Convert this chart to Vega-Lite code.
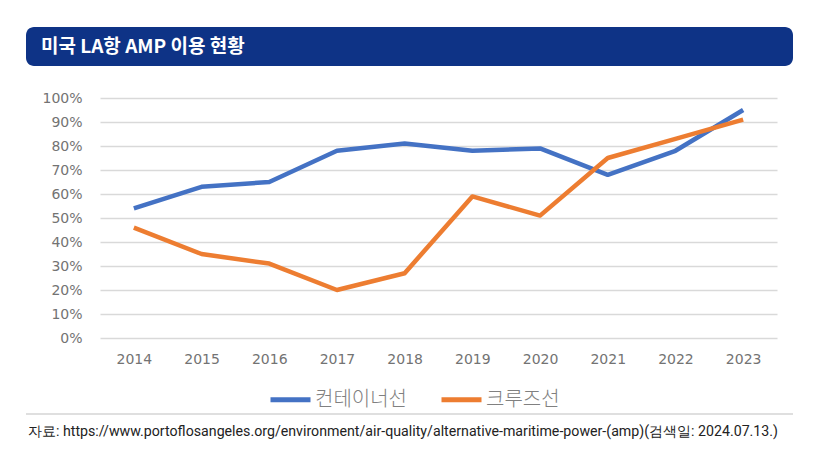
{
  "$schema": "https://vega.github.io/schema/vega-lite/v6.json",
  "background": "white",
  "padding": {"left": 25, "top": 27, "right": 40, "bottom": 10},
  "config": {"view": {"stroke": null}, "font": "Noto Sans CJK KR"},
  "spacing": 25,
  "resolve": {"scale": {"color": "independent"}, "legend": {"color": "independent"}},
  "vconcat": [
    {
      "width": 767,
      "height": 39,
      "view": {"fill": "#0E3386", "cornerRadius": 8, "stroke": null},
      "data": {"values": [{"label": "미국 LA항 AMP 이용 현황"}]},
      "mark": {"type": "text", "align": "left", "baseline": "middle", "dx": 15, "color": "white", "font": "Noto Sans CJK KR", "fontSize": 19, "fontWeight": "bold"},
      "encoding": {
        "text": {"field": "label"},
        "x": {"datum": 0, "type": "quantitative", "scale": {"domain": [0, 1]}, "axis": null},
        "y": {"datum": 0.5, "type": "quantitative", "scale": {"domain": [0, 1]}, "axis": null}
      }
    },
    {
      "spacing": 3,
      "resolve": {"scale": {"color": "independent"}, "legend": {"color": "independent"}},
      "vconcat": [
        {
          "spacing": 14,
          "resolve": {"scale": {"color": "independent"}, "legend": {"color": "independent"}},
          "hconcat": [
            {
              "width": 1,
              "height": 240,
              "data": {"values": [{"blank": ""}]},
              "mark": {"type": "text"},
              "encoding": {"text": {"field": "blank"}}
            },
            {
              "width": 677,
              "height": 240,
              "data": {
                "values": [
                  {"year": "2014", "series": "컨테이너선", "value": 54},
                  {"year": "2015", "series": "컨테이너선", "value": 63},
                  {"year": "2016", "series": "컨테이너선", "value": 65},
                  {"year": "2017", "series": "컨테이너선", "value": 78},
                  {"year": "2018", "series": "컨테이너선", "value": 81},
                  {"year": "2019", "series": "컨테이너선", "value": 78},
                  {"year": "2020", "series": "컨테이너선", "value": 79},
                  {"year": "2021", "series": "컨테이너선", "value": 68},
                  {"year": "2022", "series": "컨테이너선", "value": 78},
                  {"year": "2023", "series": "컨테이너선", "value": 95},
                  {"year": "2014", "series": "크루즈선", "value": 46},
                  {"year": "2015", "series": "크루즈선", "value": 35},
                  {"year": "2016", "series": "크루즈선", "value": 31},
                  {"year": "2017", "series": "크루즈선", "value": 20},
                  {"year": "2018", "series": "크루즈선", "value": 27},
                  {"year": "2019", "series": "크루즈선", "value": 59},
                  {"year": "2020", "series": "크루즈선", "value": 51},
                  {"year": "2021", "series": "크루즈선", "value": 75},
                  {"year": "2022", "series": "크루즈선", "value": 83},
                  {"year": "2023", "series": "크루즈선", "value": 91}
                ]
              },
              "mark": {"type": "line", "strokeWidth": 4.5, "strokeJoin": "round"},
              "encoding": {
                "x": {
                  "field": "year",
                  "type": "ordinal",
                  "scale": {"type": "point", "padding": 0.5},
                  "axis": {"title": null, "labelAngle": 0, "domain": false, "ticks": false, "labelPadding": 14, "labelFont": "DejaVu Sans", "labelFontSize": 14, "labelColor": "#737373"}
                },
                "y": {
                  "field": "value",
                  "type": "quantitative",
                  "scale": {"domain": [0, 100]},
                  "axis": {
                    "title": null,
                    "values": [0, 10, 20, 30, 40, 50, 60, 70, 80, 90, 100],
                    "labelExpr": "datum.value + '%'",
                    "domain": false,
                    "ticks": false,
                    "labelPadding": 18,
                    "labelFont": "DejaVu Sans",
                    "labelFontSize": 14,
                    "labelColor": "#737373",
                    "gridColor": "#D9D9D9",
                    "gridWidth": 1.5
                  }
                },
                "color": {
                  "field": "series",
                  "type": "nominal",
                  "scale": {"domain": ["컨테이너선", "크루즈선"], "range": ["#4472C4", "#ED7D31"]},
                  "legend": {
                    "title": null,
                    "orient": "none",
                    "legendX": 168,
                    "legendY": 279,
                    "direction": "horizontal",
                    "symbolType": "stroke",
                    "symbolSize": 1600,
                    "symbolStrokeWidth": 5,
                    "labelFont": "Noto Sans CJK KR",
                    "labelFontSize": 20,
                    "labelFontWeight": 300,
                    "labelColor": "#808080",
                    "labelOffset": 2,
                    "columnPadding": 24
                  }
                }
              }
            }
          ]
        },
        {
          "width": 767,
          "height": 36,
          "data": {"values": [{"src": "자료: https://www.portoflosangeles.org/environment/air-quality/alternative-maritime-power-(amp)(검색일: 2024.07.13.)"}]},
          "layer": [
            {
              "mark": {"type": "rule", "color": "#BFBFBF", "strokeWidth": 1},
              "encoding": {
                "y": {"datum": 1, "type": "quantitative", "scale": {"domain": [0, 1]}, "axis": null}
              }
            },
            {
              "mark": {"type": "text", "align": "left", "baseline": "middle", "dx": 2, "font": "Roboto", "fontSize": 14.2, "color": "#222222"},
              "encoding": {
                "text": {"field": "src"},
                "x": {"datum": 0, "type": "quantitative", "scale": {"domain": [0, 1]}, "axis": null},
                "y": {"datum": 0.5, "type": "quantitative", "scale": {"domain": [0, 1]}, "axis": null}
              }
            }
          ]
        }
      ]
    }
  ]
}
